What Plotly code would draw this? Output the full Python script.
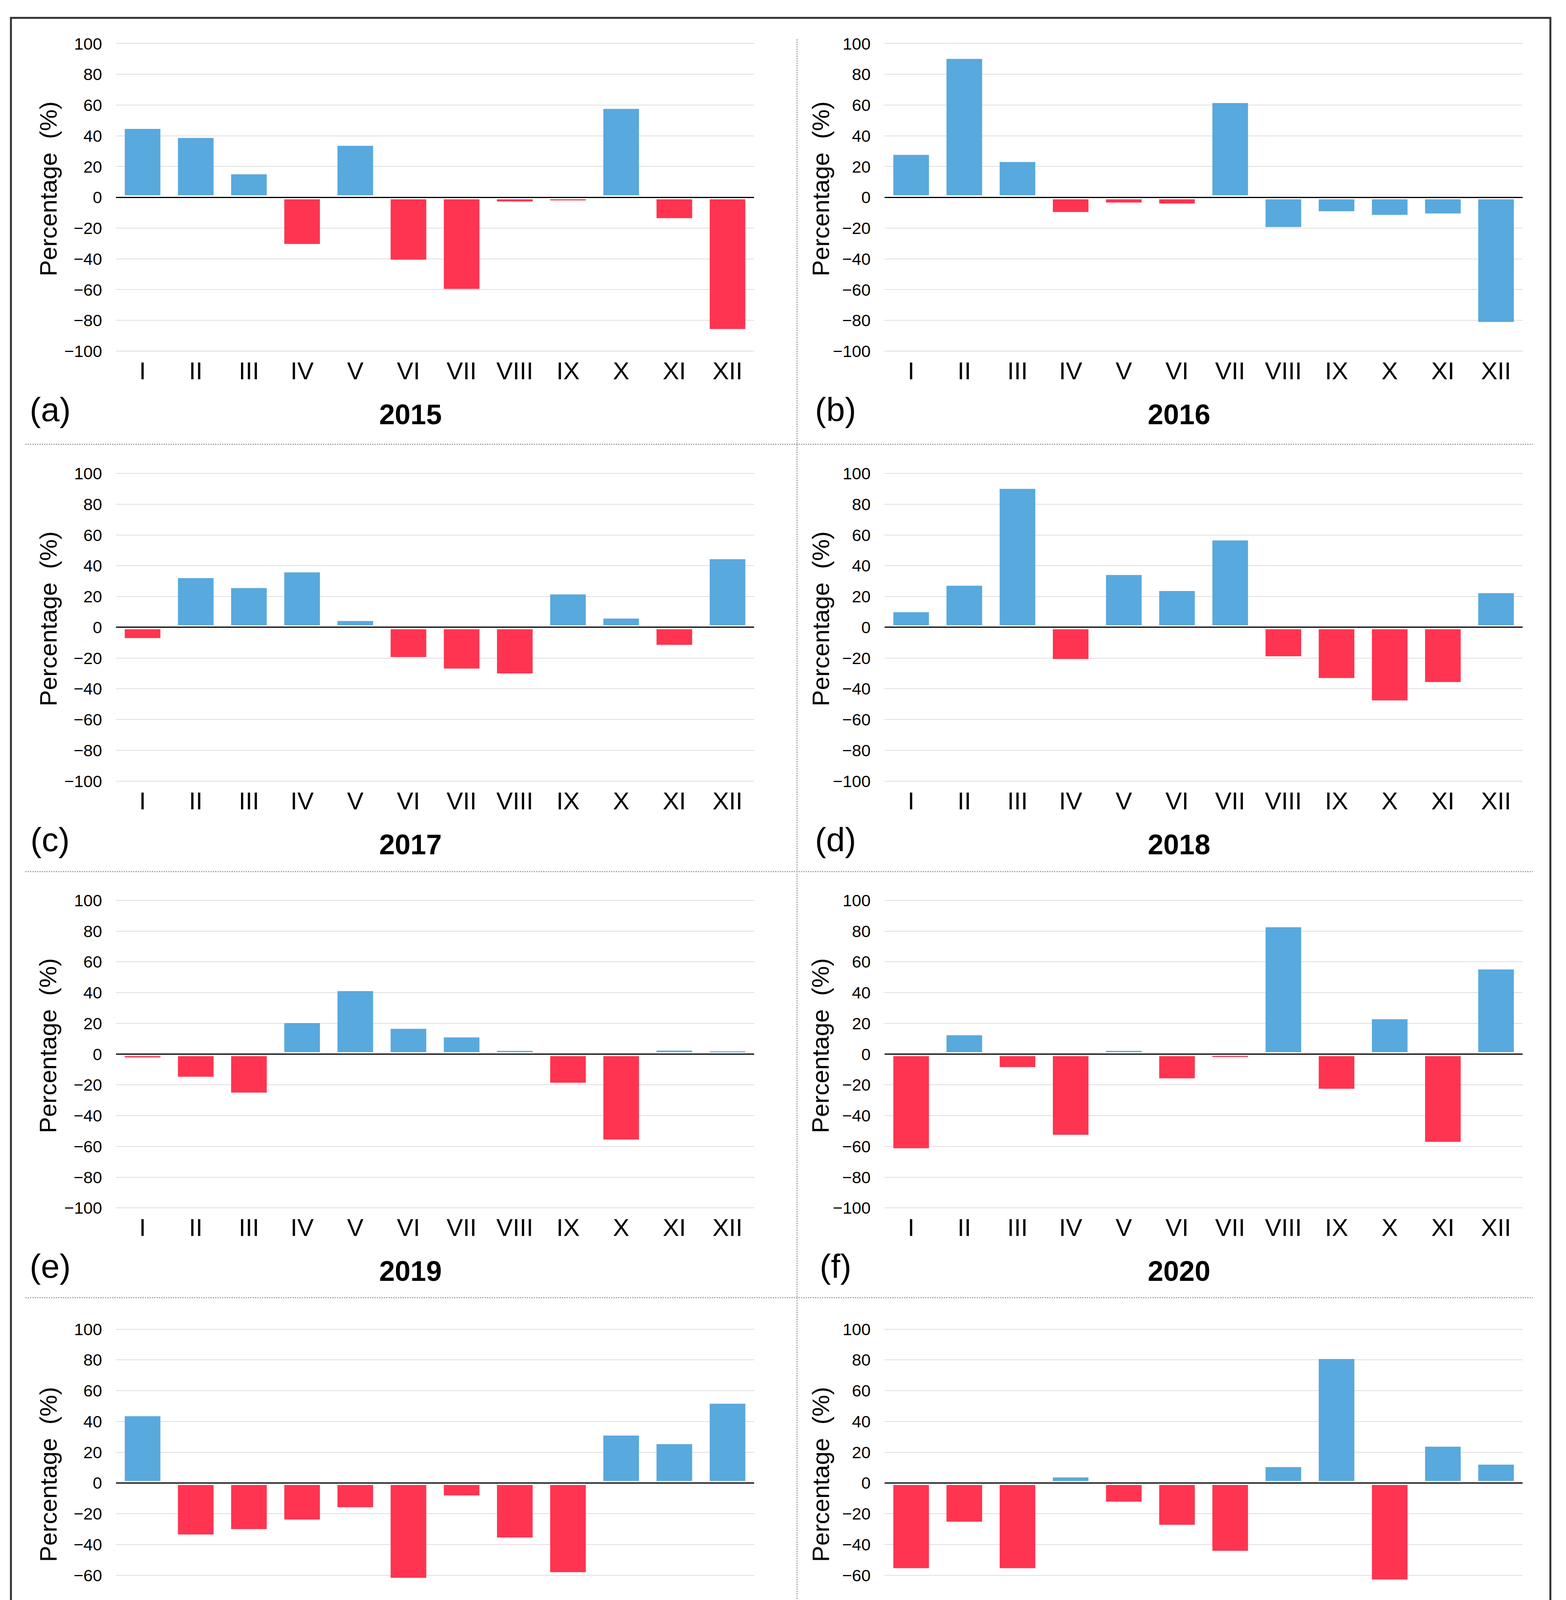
import plotly.graph_objects as go

# ## Data (percent deviation per month)
MONTHS = ["I", "II", "III", "IV", "V", "VI", "VII", "VIII", "IX", "X", "XI", "XII"]
YEARS = [2015, 2016, 2017, 2018, 2019, 2020, 2021, 2022, 2023, 2024]
LETTERS = ["a", "b", "c", "d", "e", "f", "g", "h", "i", "j"]

V2015 = [44.5, 38.6, 15.0, -30.3, 33.5, -40.5, -59.5, -2.7, -2.0, 57.5, -13.5, -85.6]
V2016 = [27.6, 90.0, 23.0, -9.5, -3.4, -4.0, 61.3, -19.3, -9.0, -11.4, -10.5, -81.0]
V2017 = [-7.0, 32.0, 25.5, 35.7, 4.1, -19.3, -26.8, -30.0, 21.4, 5.7, -11.4, 44.3]
V2018 = [9.8, 27.0, 90.0, -20.6, 34.0, 23.6, 56.5, -18.8, -33.0, -47.5, -35.6, 22.2]
V2019 = [-2.1, -14.7, -25.0, 20.2, 41.0, 16.5, 10.9, 2.1, -18.6, -55.5, 2.3, 1.8]
V2020 = [-61.2, 12.3, -8.4, -52.4, 2.1, -15.7, -1.8, 82.5, -22.5, 22.7, -57.0, 55.1]
V2021 = [43.4, -33.5, -30.0, -23.8, -15.8, -61.7, -8.1, -35.5, -58.0, 30.8, 25.2, 51.5]
V2022 = [-55.4, -25.2, -55.4, 3.6, -12.2, -27.2, -44.1, 10.3, 80.6, -62.8, 23.6, 11.9]
V2023 = [81.7, 23.0, -9.7, 7.2, 49.0, -3.7, 1.5, -16.7, -8.9, -18.4, 61.7, -15.8]
V2024 = [-3.0, 14.2, -7.2, -34.4, -1.8, 25.6, -8.2, -29.6, 109.3, -11.0, -2.4, 23.2]

VALUES = [V2015, V2016, V2017, V2018, V2019, V2020, V2021, V2022, V2023, V2024]

# months of 2016 drawn in blue although negative
BLUE_NEG_2016 = ["VIII", "IX", "X", "XI", "XII"]

Y_TICKS = [-100, -80, -60, -40, -20, 0, 20, 40, 60, 80, 100]

BLUE = "#58A9DD"
RED = "#FF3450"
GRID = "#E2DDDE"
FONT = "Liberation Sans, Arial"

W, H = 4010, 5597
GAP = 1.3  # small gap between bars and the zero line
OFF = 8    # page margin of the browser

# pixel layout
ROW_TOP = [96, 1203, 2302, 3406, 4514]      # y pixel of the 100 gridline
PLOT_H = 792                                 # pixels for 200 units
COL_L = [297, 2265]
COL_R = [1931, 3899]
TITLE_X = [123, 2101]
LETTER_X = [128, 2139]
YEAR_X = [1051, 3019]


def px(x):
    return (x - OFF) / W


def py(y):
    return 1 - (y - OFF) / H


def label(t):
    return str(t).replace("-", "\u2212")


fig = go.Figure()
layout = {}
annotations = []

for k, (year, vals) in enumerate(zip(YEARS, VALUES)):
    row, col = divmod(k, 2)
    n = k + 1
    xa = "x" if n == 1 else f"x{n}"
    ya = "y" if n == 1 else f"y{n}"

    colors = []
    for m, v in zip(MONTHS, vals):
        if v >= 0 or (year == 2016 and m in BLUE_NEG_2016):
            colors.append(BLUE)
        else:
            colors.append(RED)
    base = [GAP if v >= 0 else -GAP for v in vals]
    length = [v - b for v, b in zip(vals, base)]

    fig.add_trace(go.Bar(
        x=MONTHS, y=length, base=base,
        marker=dict(color=colors, line=dict(width=0)),
        xaxis=xa, yaxis=ya, showlegend=False,
    ))

    top = ROW_TOP[row]
    scale = PLOT_H / 200
    axis_bot = top + PLOT_H + 2 * scale
    if year != 2024:
        d_top, d_bot = top - 2 * scale, axis_bot
        yrange = [-102, 102]
    else:
        # the last panel is stretched: gridlines and labels use different scales
        zero_px, scale = 4937, 3.695
        d_top, d_bot = 4525, 5340
        yrange = [-(d_bot - zero_px) / scale, (zero_px - d_top) / scale]

    xaxis = dict(
        domain=[px(COL_L[col]), px(COL_R[col])],
        anchor=ya, type="category",
        showgrid=False, showline=False, zeroline=False, ticks="",
        tickfont=dict(family=FONT, size=63, color="black"),
    )
    if year == 2024:
        xaxis.update(anchor="free", position=py(axis_bot))
    layout[f"xaxis{n}"] = xaxis

    layout[f"yaxis{n}"] = dict(
        domain=[py(d_bot), py(d_top)],
        anchor=xa, range=yrange,
        tickvals=Y_TICKS, ticktext=[label(t) for t in Y_TICKS],
        showgrid=True, gridcolor=GRID, gridwidth=2,
        zeroline=True, zerolinecolor="black", zerolinewidth=3,
        showline=False,
        ticks="outside", ticklen=26, tickcolor="rgba(0,0,0,0)",
        tickfont=dict(family=FONT, size=43, color="black"),
        showticklabels=(year != 2024),
    )

    if year == 2024:
        lab_zero, lab_scale = 4933.5, 3.975
        layout["yaxis11"] = dict(
            overlaying=ya, anchor=xa, side="left",
            range=[-(d_bot - lab_zero) / lab_scale, (lab_zero - d_top) / lab_scale],
            tickvals=Y_TICKS, ticktext=[label(t) for t in Y_TICKS],
            showgrid=False, zeroline=False, showline=False,
            ticks="outside", ticklen=26, tickcolor="rgba(0,0,0,0)",
            tickfont=dict(family=FONT, size=43, color="black"),
        )
        # empty trace so that the label axis gets drawn
        fig.add_trace(go.Scatter(x=[], y=[], xaxis=xa, yaxis="y11",
                                 showlegend=False, hoverinfo="skip"))

    # y title, panel letter and year
    annotations.append(dict(
        text="Percentage  (%)", textangle=-90,
        x=px(TITLE_X[col]), y=py(top + 374), xref="paper", yref="paper",
        xanchor="center", yanchor="middle", showarrow=False,
        font=dict(family=FONT, size=62, color="black"),
    ))
    annotations.append(dict(
        text=f"({LETTERS[k]})",
        x=px(LETTER_X[col]), y=py(top + 942), xref="paper", yref="paper",
        xanchor="center", yanchor="middle", showarrow=False,
        font=dict(family=FONT, size=86, color="black"),
    ))
    annotations.append(dict(
        text=f"<b>{year}</b>",
        x=px(YEAR_X[col]), y=py(top + 955), xref="paper", yref="paper",
        xanchor="center", yanchor="middle", showarrow=False,
        font=dict(family=FONT, size=72, color="black"),
    ))

# separators and frame
shapes = [dict(type="rect", xref="paper", yref="paper",
               x0=px(28), x1=px(3970), y0=py(30), y1=py(5562),
               line=dict(color="#333333", width=5))]
for ysep in [1128, 2228, 3325, 4447]:
    shapes.append(dict(type="line", xref="paper", yref="paper",
                       x0=px(65), x1=px(3925), y0=py(ysep), y1=py(ysep),
                       line=dict(color="#9a9a9a", width=3, dash="dot")))
shapes.append(dict(type="line", xref="paper", yref="paper",
                   x0=px(2041), x1=px(2041), y0=py(85), y1=py(5500),
                   line=dict(color="#9a9a9a", width=3, dash="dot")))

fig.update_layout(
    width=W, height=H,
    margin=dict(l=0, r=0, t=0, b=0),
    paper_bgcolor="white", plot_bgcolor="white",
    bargap=0.33,
    annotations=annotations,
    shapes=shapes,
    **layout,
)

fig.write_html("out.html")
